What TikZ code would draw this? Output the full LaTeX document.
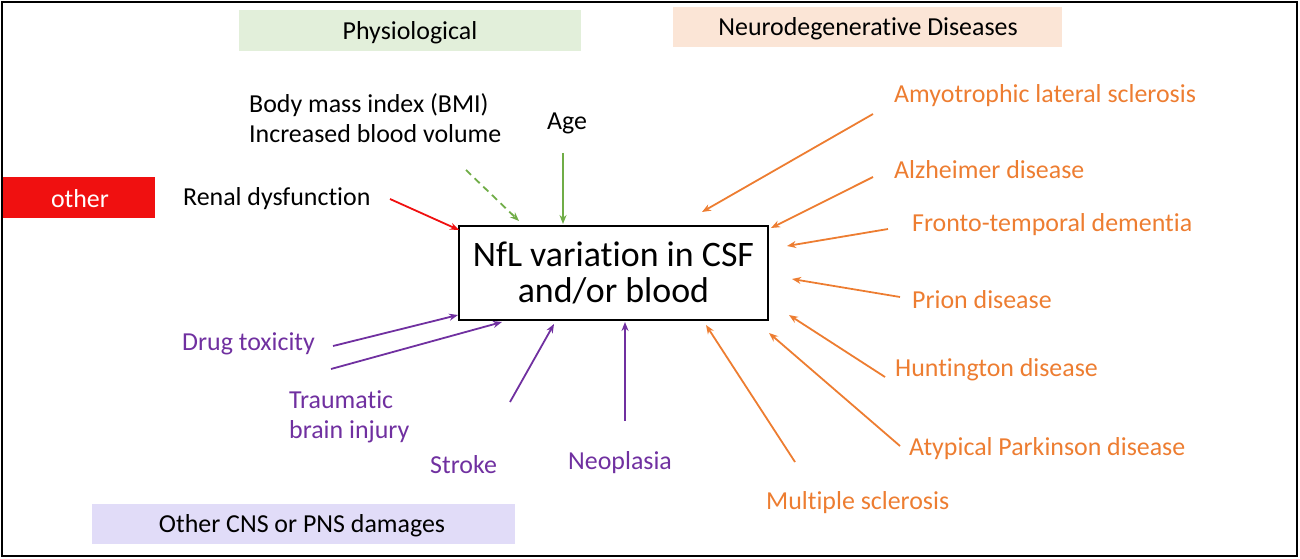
\documentclass[tikz,border=0pt]{standalone}
\usepackage{fontspec}
\setmainfont[Ligatures={NoCommon,TeX},Contextuals={NoAlternate}]{Carlito}
\usetikzlibrary{arrows.meta}
\definecolor{orng}{HTML}{ED7D31}
\definecolor{purp}{HTML}{7030A0}
\definecolor{grn}{HTML}{70AD47}
\definecolor{redc}{HTML}{F01010}
\definecolor{hdgreen}{HTML}{E2EFDA}
\definecolor{hdpeach}{HTML}{FBE5D6}
\definecolor{hdlav}{HTML}{E1DCF8}
\newcommand\nolig{\kern0pt{}}
\begin{document}
\begin{tikzpicture}[x=1bp,y=-1bp,
  lbl/.style={font=\fontsize{26}{30}\selectfont, inner sep=0pt, anchor=west, yshift=-2bp},
  hdr/.style={font=\fontsize{26}{30}\selectfont, inner sep=0pt, yshift=-2bp},
  conn/.style={line width=1.8bp, -{Stealth[length=9bp,width=7bp]}}]
\useasboundingbox (0,0) rectangle (1300,559);
\draw[line width=2bp] (2,2) rectangle (1297,556);
% header boxes
\fill[hdgreen] (239,10) rectangle (581,51);
\node[hdr] (phys) at (410,31) {Physiological};
\fill[hdpeach] (673,7) rectangle (1062,47);
\node[hdr] (neuro) at (868,27) {Neurodegenerat\nolig ive Diseases};
\fill[redc] (3,177) rectangle (155,218);
\node[hdr, text=white] (other) at (80,197) {other};
\fill[hdlav] (92,504) rectangle (515,544);
\node[hdr] (cns) at (302,524) {Other CNS or PNS damages};
% main box
\node[draw, line width=1.3bp, minimum width=309bp, minimum height=94bp, align=center,
  font=\fontsize{36}{36}\selectfont, inner sep=0pt] (main) at (613.5,273) {NfL variat\nolig ion in CSF\\and/or blood};
% physiological
\node[lbl, align=left] (bmi) at (249,116) {Body mass index (BMI)\\Increased blood volume};
\node[hdr] (age) at (567,121) {Age};
\node[lbl] (renal) at (183,197) {Renal dysfunct\nolig ion};
\coordinate (bmiS) at (466,170); \coordinate (bmiE) at (519,221);
\draw[conn, grn, dashed, dash pattern=on 7bp off 5bp] (bmiS) -- (bmiE);
\coordinate (ageS) at (563,153); \coordinate (ageE) at (563,224);
\draw[conn, grn] (ageS) -- (ageE);
\coordinate (renS) at (390,199); \coordinate (renE) at (459,230);
\draw[conn, redc] (renS) -- (renE);
% neurodegenerative
\begin{scope}[every node/.style={lbl, text=orng}]
\node (als) at (894,94) {Amyotrophic lateral sclerosis};
\node (ad) at (894,168) {Alzheimer disease};
\node (ftd) at (912,223) {Fronto-temporal dement\nolig ia};
\node (prion) at (912,298) {Prion disease};
\node (hd) at (895,368) {Huntington disease};
\node (apd) at (909,447) {Atypical Parkinson disease};
\node (ms) at (766,501) {Multiple sclerosis};
\end{scope}
\coordinate (alsS) at (873,114); \coordinate (alsE) at (702,212);
\coordinate (adS) at (873,177); \coordinate (adE) at (771,228);
\coordinate (ftdS) at (888,229); \coordinate (ftdE) at (787,246);
\coordinate (prS) at (900,297); \coordinate (prE) at (792,279);
\coordinate (hdS) at (885,377); \coordinate (hdE) at (789,315);
\coordinate (apdS) at (900,446); \coordinate (apdE) at (769,333);
\coordinate (msS) at (795,462); \coordinate (msE) at (706,325);
\foreach \s/\e in {alsS/alsE, adS/adE, ftdS/ftdE, prS/prE, hdS/hdE, apdS/apdE, msS/msE}
  \draw[conn, orng] (\s) -- (\e);
% other CNS
\begin{scope}[every node/.style={lbl, text=purp}]
\node (drug) at (182,342) {Drug toxicity};
\node[align=left] (tbi) at (289,415) {Traumat\nolig ic\\brain injury};
\node (stroke) at (430,463) {Stroke};
\node (neo) at (568,461) {Neoplasia};
\end{scope}
\coordinate (drS) at (333,346); \coordinate (drE) at (458,315);
\coordinate (tbS) at (331,369); \coordinate (tbE) at (502,322);
\coordinate (stS) at (510,402); \coordinate (stE) at (554,324);
\coordinate (neS) at (625,421); \coordinate (neE) at (625,322);
\foreach \s/\e in {drS/drE, tbS/tbE, stS/stE, neS/neE}
  \draw[conn, purp] (\s) -- (\e);
\end{tikzpicture}
\end{document}
